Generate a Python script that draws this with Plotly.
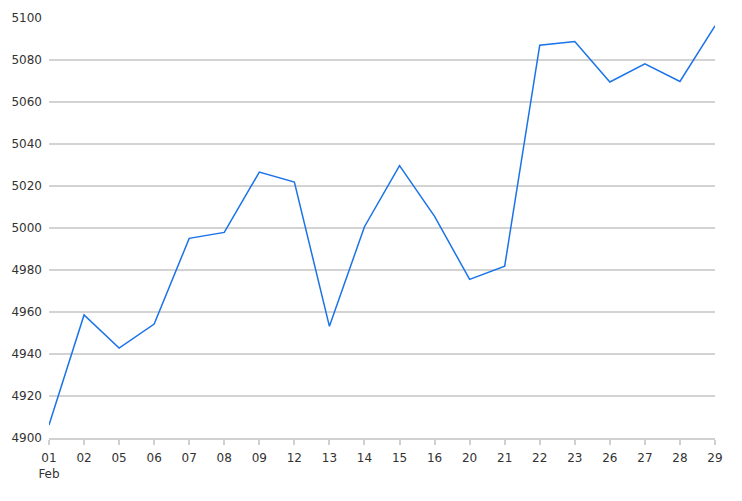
import plotly.graph_objects as go

# trading days, Feb 2024
days = ["01", "02", "05", "06", "07", "08", "09", "12", "13", "14",
        "15", "16", "20", "21", "22", "23", "26", "27", "28", "29"]
closes = [4906.19, 4958.61, 4942.81, 4954.23, 4995.06, 4997.91, 5026.61, 5021.84, 4953.17, 5000.62,
          5029.73, 5005.57, 4975.51, 4981.80, 5087.03, 5088.80, 5069.53, 5078.18, 5069.76, 5096.27]
tick_text = ["01<br>Feb"] + days[1:]

fig = go.Figure()
fig.add_trace(go.Scatter(
    x=list(range(len(days))), y=closes,
    mode="lines",
    line=dict(color="#1a73e8", width=1.5),
    showlegend=False,
))

# page body has an 8px margin, so shrink the figure to match
fig.update_layout(
    width=734, height=493,
    margin=dict(l=41, r=27, t=10, b=63),
    paper_bgcolor="white",
    plot_bgcolor="white",
    font=dict(family="DejaVu Sans, sans-serif", size=12, color="#333333"),
)

fig.update_xaxes(
    range=[0, len(days) - 1], automargin=False,
    tickvals=list(range(len(days))), ticktext=tick_text,
    showgrid=False, zeroline=False,
    showline=True, linecolor="#d0d0d0", linewidth=2,
    ticks="outside", ticklen=5, tickcolor="#d0d0d0", tickwidth=2,
    ticklabelstandoff=3,
)
fig.update_yaxes(
    range=[4900, 5100], automargin=False,
    tickvals=[4900, 4920, 4940, 4960, 4980, 5000, 5020, 5040, 5060, 5080, 5100],
    gridcolor="#d3d3d3", gridwidth=1.5,
    zeroline=False, showline=False, ticks="", ticklabelstandoff=6,
)

fig.write_html("out.html")
